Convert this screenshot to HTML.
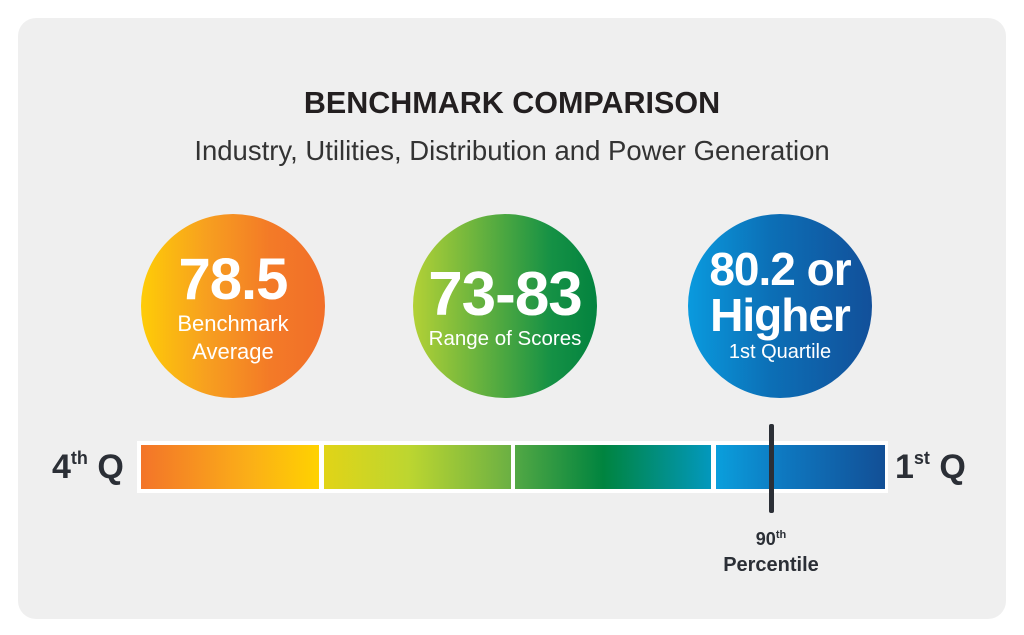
<!DOCTYPE html>
<html><head><meta charset="utf-8"><style>
body{margin:0;width:1024px;height:635px;background:#fff;font-family:"Liberation Sans",sans-serif;position:relative;overflow:hidden}
.card{position:absolute;left:18px;top:18px;width:988px;height:601px;background:#efefef;border-radius:18px}
.t{position:absolute;left:0;width:1024px;text-align:center;color:#231f20}
.c{position:absolute;width:184px;height:184px;border-radius:50%;top:214px;color:#fff;text-align:center;display:flex;flex-direction:column;justify-content:center;align-items:center}
.big{font-weight:bold;font-size:58px;line-height:60px;letter-spacing:-1px}
.sm{font-size:21px;line-height:28px}
.seg{position:absolute;top:445px;height:44px}
.q{position:absolute;top:448px;font-weight:bold;font-size:34px;color:#2b2f36}
.q sup{font-size:18px;vertical-align:14px}
</style></head><body>
<div class="card"></div>
<div class="t" style="top:86px;font-weight:bold;font-size:30.5px">BENCHMARK COMPARISON</div>
<div class="t" style="top:135px;font-size:27.5px;color:#333">Industry, Utilities, Distribution and Power Generation</div>
<div class="c" style="left:141px;background:linear-gradient(90deg,#fecc07,#f7a01f 35%,#f37a27 70%,#f26f29)"><div class="big" style="margin-top:4px">78.5</div><div class="sm" style="font-size:22px">Benchmark<br>Average</div></div>
<div class="c" style="left:413px;background:linear-gradient(90deg,#b3d136,#5faf3f 40%,#159145 75%,#03833f)"><div class="big" style="font-size:62px;margin-top:6px">73-83</div><div class="sm" style="font-size:20.5px">Range of Scores</div></div>
<div class="c" style="left:688px;background:linear-gradient(90deg,#0a9ade,#0c6fb6 45%,#12509a)"><div class="big" style="font-size:46px;line-height:46px">80.2 or<br>Higher</div><div class="sm" style="font-size:20px">1st Quartile</div></div>
<div style="position:absolute;left:137px;top:441px;width:751px;height:52px;background:#fff"></div>
<div class="seg" style="left:141px;width:178px;background:linear-gradient(90deg,#f37429,#fbae18 60%,#ffd200)"></div>
<div class="seg" style="left:324px;width:187px;background:linear-gradient(90deg,#e1d417,#bdd630 45%,#6bb043)"></div>
<div class="seg" style="left:515px;width:196px;background:linear-gradient(90deg,#52a844,#00843f 45%,#0398bd)"></div>
<div class="seg" style="left:716px;width:169px;background:linear-gradient(90deg,#0a9fdc,#0e78c0 40%,#124f96)"></div>
<div style="position:absolute;left:769px;top:424px;width:5px;height:89px;background:#2b2f36;border-radius:2px"></div>
<div class="q" style="left:52px">4<sup>th</sup> Q</div>
<div class="q" style="left:895px">1<sup>st</sup> Q</div>
<div style="position:absolute;left:711px;width:120px;top:522px;text-align:center;font-weight:bold;color:#2b2f36;font-size:18px;line-height:26px">90<sup style="font-size:11px">th</sup><br><span style="font-size:20px">Percentile</span></div>
</body></html>
